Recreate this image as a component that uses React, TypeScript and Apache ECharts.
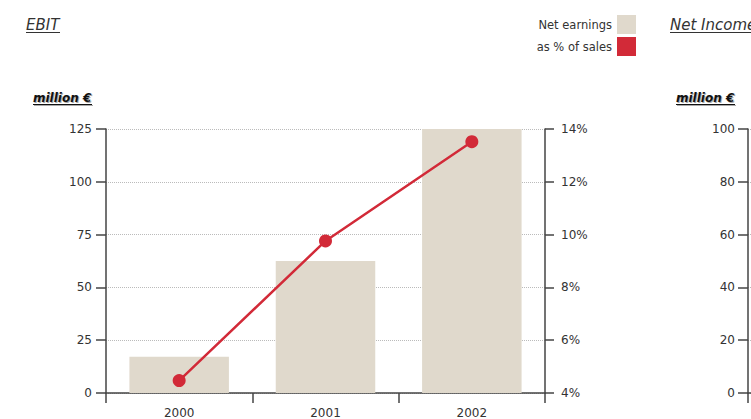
import React, { useEffect, useRef } from "react";
import * as echarts from "echarts";

const years = ["2000", "2001", "2002"];
const netEarnings = [17.2, 62.5, 125];
const pctOfSales = [4.47, 9.76, 13.52];
const leftTicks = { min: 0, max: 125, interval: 25 };
const rightTicks = { min: 4, max: 14, interval: 2 };
const netIncomeTicks = { min: 0, max: 100, interval: 20 };
const seriesNames = ["Net earnings", "as % of sales"];

const FONT = "DejaVu Sans";
const AXIS = "#444";
const LABEL = "#333";

function heading(text: string, x: number, y: number, width: number) {
  return [
    {
      type: "text",
      x,
      y,
      style: { text, font: `italic 15px "${FONT}"`, fill: LABEL, textVerticalAlign: "bottom" },
    },
    { type: "line", shape: { x1: x, y1: y + 0.5, x2: x + width, y2: y + 0.5 }, style: { stroke: LABEL, lineWidth: 1 } },
  ];
}

function unit(x: number, y: number, width: number) {
  return [
    { type: "line", shape: { x1: x + 1, y1: y + 1.5, x2: x + width + 1, y2: y + 1.5 }, style: { stroke: "#aaa", lineWidth: 1.2 } },
    {
      type: "text",
      x: x + 1,
      y: y + 1,
      style: { text: "million €", font: `italic bold 12px "${FONT}"`, fill: "#aaa", textVerticalAlign: "bottom" },
    },
    {
      type: "text",
      x,
      y,
      style: { text: "million €", font: `italic bold 12px "${FONT}"`, fill: "#111", textVerticalAlign: "bottom" },
    },
    { type: "line", shape: { x1: x, y1: y + 0.5, x2: x + width, y2: y + 0.5 }, style: { stroke: "#111", lineWidth: 1.2 } },
  ];
}

export default function App() {
  const ref = useRef<HTMLDivElement>(null);
  useEffect(() => {
    if (!ref.current) return;
    const chart = echarts.init(ref.current, undefined, { renderer: "svg" });
    const catAxis = (gridIndex: number, showLabel: boolean) => ({
      type: "category",
      gridIndex,
      data: years,
      axisLine: { show: true, lineStyle: { color: AXIS, width: 1.5 } },
      axisTick: { show: true, length: 10, lineStyle: { color: AXIS, width: 1.5 } },
      axisLabel: { show: showLabel, color: LABEL, fontFamily: FONT, fontSize: 12, margin: 14 },
    });
    chart.setOption({
      animation: false,
      textStyle: { fontFamily: FONT },
      grid: [
        { left: 106, top: 129, width: 439, height: 264 },
        { left: 748, top: 129, width: 439, height: 264 },
      ],
      legend: {
        data: seriesNames,
        orient: "vertical",
        align: "right",
        right: 115,
        top: 15,
        padding: 0,
        itemWidth: 19,
        itemHeight: 19,
        itemGap: 3,
        icon: "rect",
        textStyle: { color: LABEL, fontFamily: FONT, fontSize: 11.5 },
      },
      xAxis: [catAxis(0, true), catAxis(1, false)],
      yAxis: [
        {
          type: "value",
          gridIndex: 0,
          position: "left",
          ...leftTicks,
          axisLine: { show: true, lineStyle: { color: AXIS, width: 1.5 } },
          axisTick: { show: true, length: 10, lineStyle: { color: AXIS, width: 1.5 } },
          axisLabel: { color: LABEL, fontFamily: FONT, fontSize: 12, margin: 14 },
          splitLine: { show: true, lineStyle: { color: "#bbb", type: "dotted", width: 1 } },
        },
        {
          type: "value",
          gridIndex: 0,
          position: "right",
          ...rightTicks,
          axisLine: { show: true, lineStyle: { color: AXIS, width: 1.5 } },
          axisTick: { show: true, length: 9, lineStyle: { color: AXIS, width: 1.5 } },
          axisLabel: { color: LABEL, fontFamily: FONT, fontSize: 12, margin: 16, formatter: "{value}%" },
          splitLine: { show: false },
        },
        {
          type: "value",
          gridIndex: 1,
          position: "left",
          ...netIncomeTicks,
          axisLine: { show: true, lineStyle: { color: AXIS, width: 1.5 } },
          axisTick: { show: true, length: 10, lineStyle: { color: AXIS, width: 1.5 } },
          axisLabel: { color: LABEL, fontFamily: FONT, fontSize: 12, margin: 13 },
          splitLine: { show: true, lineStyle: { color: "#bbb", type: "dotted", width: 1 } },
        },
      ],
      series: [
        {
          name: seriesNames[0],
          type: "bar",
          xAxisIndex: 0,
          yAxisIndex: 0,
          data: netEarnings,
          barWidth: "68%",
          itemStyle: { color: "#e0d9cc" },
        },
        {
          name: seriesNames[1],
          type: "line",
          xAxisIndex: 0,
          yAxisIndex: 1,
          data: pctOfSales,
          symbol: "circle",
          symbolSize: 13,
          lineStyle: { color: "#d22a38", width: 2.5 },
          itemStyle: { color: "#d22a38" },
          z: 5,
        },
      ],
      graphic: [
        ...heading("EBIT", 26, 32, 34),
        ...heading("Net Income", 670, 32, 90),
        ...unit(33, 104, 59),
        ...unit(676, 104, 59),
      ],
    });
    return () => chart.dispose();
  }, []);
  return (
    <div
      ref={ref}
      style={{ position: "fixed", left: 0, top: 0, width: 751, height: 419, background: "#fff" }}
    />
  );
}
